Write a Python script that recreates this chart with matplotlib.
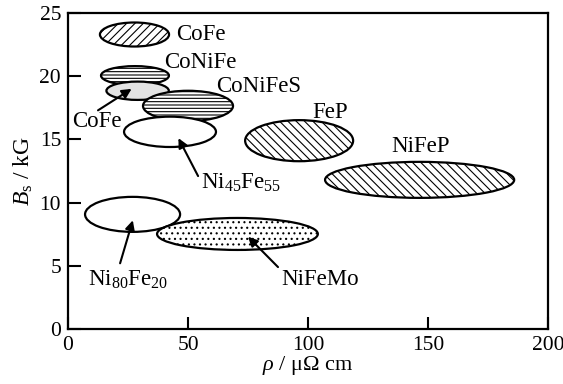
import matplotlib
matplotlib.use("Agg")
import matplotlib.pyplot as plt
from matplotlib.patches import Ellipse

plt.rcParams['font.family'] = ['Liberation Serif', 'DejaVu Serif']
plt.rcParams['mathtext.fontset'] = 'custom'
plt.rcParams['mathtext.rm'] = 'Liberation Serif'
plt.rcParams['mathtext.it'] = 'Liberation Serif:italic'
plt.rcParams['hatch.linewidth'] = 0.8

# Material regions: resistivity (µΩ cm) and saturation flux density (kG)
materials = ['CoFe', 'CoNiFe', 'CoFe (soft)', 'CoNiFeS', 'Ni45Fe55',
             'FeP', 'NiFeP', 'Ni80Fe20', 'NiFeMo']
rho_center = [27.7, 27.9, 29.0, 50.0, 42.5, 96.3, 146.5, 26.9, 70.6]
rho_span = [28.8, 28.3, 26.0, 37.5, 38.3, 45.0, 78.8, 39.6, 67.0]
bs_center = [23.3, 20.05, 18.85, 17.65, 15.6, 14.9, 11.8, 9.07, 7.52]
bs_span = [1.9, 1.5, 1.45, 2.4, 2.4, 3.25, 2.85, 2.77, 2.53]

hatches = ['////', '-----', None, '-----', None, r'\\\\', r'\\\\', None, '...']
fills = ['white', 'white', '#e3e3e3', 'white', 'white', 'white', 'white', 'white', 'white']
layers = [2, 2, 3, 4, 5, 2, 2, 2, 3]

# Labels: text, text position, optional arrow target
label_text = ['CoFe', 'CoNiFe', 'CoFe', 'CoNiFeS', 'Ni$_{45}$Fe$_{55}$',
              'FeP', 'NiFeP', 'Ni$_{80}$Fe$_{20}$', 'NiFeMo']
label_x = [45.0, 40.2, 1.8, 61.8, 55.5, 109.0, 147.0, 8.5, 89.0]
label_y = [23.3, 21.05, 16.4, 19.2, 11.55, 17.1, 14.4, 3.9, 3.9]
label_ha = ['left', 'left', 'left', 'left', 'left', 'center', 'center', 'left', 'left']
arrow_tail = [None, None, (12.5, 17.3), None, (54.2, 12.1), None, None, (21.7, 5.2), (87.5, 4.9)]
arrow_head = [None, None, (26.5, 19.0), None, (46.0, 15.1), None, None, (27.0, 8.6), (75.0, 7.3)]

fig = plt.figure(figsize=(5.63, 3.84), dpi=100)
ax = fig.add_axes([0.1208, 0.1432, 0.8526, 0.8229])

for i in range(len(materials)):
    e = Ellipse((rho_center[i], bs_center[i]), rho_span[i], bs_span[i],
                facecolor=fills[i], edgecolor='black', linewidth=1.6,
                hatch=hatches[i], zorder=layers[i])
    ax.add_patch(e)
    ax.text(label_x[i], label_y[i], label_text[i], ha=label_ha[i], va='center',
            fontsize=16.5, zorder=10)
    if arrow_tail[i] is not None:
        ax.annotate('', xy=arrow_head[i], xytext=arrow_tail[i],
                    arrowprops=dict(arrowstyle='-|>', color='black', lw=1.5,
                                    mutation_scale=14, shrinkA=0, shrinkB=0),
                    zorder=11)

ax.set_xlim(0, 200)
ax.set_ylim(0, 25)
ax.set_xticks([0, 50, 100, 150, 200])
ax.set_yticks([0, 5, 10, 15, 20, 25])
ax.tick_params(direction='in', length=9, width=1.5, labelsize=15.5, pad=5)
for s in ax.spines.values():
    s.set_linewidth(1.6)

ax.set_xlabel(r'$\rho$ / μΩ cm', fontsize=16, labelpad=-1)
ax.set_ylabel(r'$B_{\rm s}$ / kG', fontsize=17, labelpad=3)

fig.savefig('out.png', dpi=100)
